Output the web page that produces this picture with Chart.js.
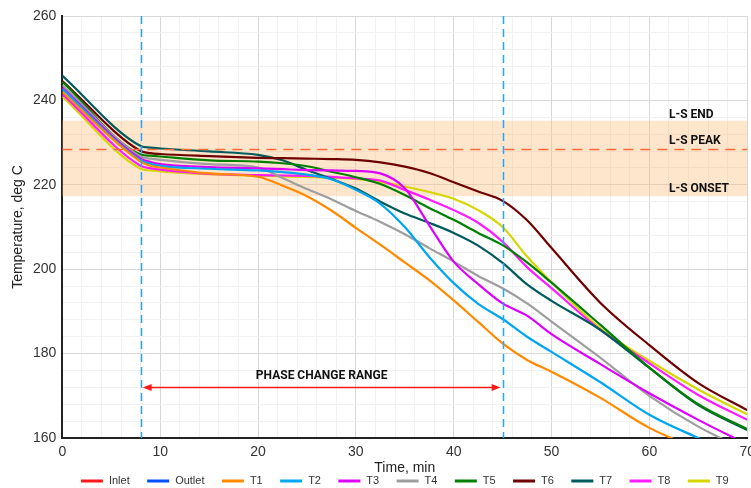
<!DOCTYPE html>
<html>
<head>
<meta charset="utf-8">
<script src="https://cdn.jsdelivr.net/npm/chart.js@4.4.1/dist/chart.umd.min.js"></script>
<style>
  html, body { margin: 0; padding: 0; background: #fff; overflow: hidden; }
  #wrap { position: relative; width: 761px; height: 488px; }
</style>
</head>
<body>
<div id="wrap"><canvas id="chart"></canvas></div>
<script>
// Sampling times (min) shared by every thermocouple trace
const minutes = [0, 8, 9, 10, 15, 20, 22.5, 25, 27.5, 30, 32.5, 35, 37.5, 40, 42.5, 45, 47.5, 50, 55, 60, 65, 70];

// Temperatures, deg C
const inlet  = [];
const outlet = [];
const t1 = [242.0, 225.5, 224.5, 224.1, 222.7, 221.9, 219.8, 217.3, 213.9, 209.8, 205.8, 201.6, 197.4, 192.6, 187.5, 182.4, 178.5, 175.7, 169.5, 162.4, 157.5, 154.0];
const t2 = [242.7, 225.8, 225.0, 224.5, 223.8, 223.4, 223.0, 222.4, 221.3, 218.8, 215.5, 210.0, 202.9, 196.7, 191.8, 188.2, 184.0, 180.4, 173.2, 165.5, 160.0, 155.0];
const t3 = [243.0, 226.2, 225.4, 224.9, 224.2, 223.9, 223.7, 223.5, 223.4, 223.3, 222.7, 219.2, 210.4, 201.8, 196.5, 191.9, 189.0, 184.6, 177.5, 170.6, 164.3, 158.5];
const t4 = [243.6, 226.7, 226.2, 225.9, 224.9, 224.1, 221.6, 219.0, 216.6, 213.8, 211.2, 208.3, 205.0, 201.8, 198.4, 195.5, 191.9, 187.6, 179.0, 170.0, 162.7, 157.0];
const t5 = [244.4, 227.2, 226.9, 226.7, 225.8, 225.5, 225.1, 224.4, 223.1, 221.8, 220.2, 217.6, 214.5, 211.7, 208.6, 205.7, 201.6, 196.8, 186.8, 176.7, 168.0, 162.1];
const t6 = [244.6, 228.0, 227.5, 227.3, 226.8, 226.4, 226.3, 226.2, 226.1, 225.9, 225.3, 224.3, 222.8, 220.6, 218.4, 216.2, 211.6, 205.0, 192.0, 182.0, 173.0, 166.6];
const t7 = [245.8, 229.2, 228.8, 228.6, 227.9, 227.1, 225.8, 223.5, 221.4, 219.1, 216.0, 213.2, 211.0, 208.6, 205.6, 201.5, 196.4, 192.5, 185.6, 176.6, 167.8, 161.9];
const t8 = [241.5, 224.5, 223.9, 223.6, 222.6, 222.3, 222.2, 222.1, 221.9, 221.5, 221.0, 218.8, 216.5, 214.0, 211.0, 206.5, 200.5, 195.5, 185.6, 177.7, 170.2, 164.3];
const t9 = [240.9, 223.8, 223.4, 223.2, 222.5, 222.2, 222.0, 221.9, 221.7, 221.4, 220.7, 219.6, 218.3, 216.7, 214.0, 210.0, 203.0, 196.9, 186.0, 178.3, 171.5, 165.6];

const seriesNames  = ['Inlet', 'Outlet', 'T1', 'T2', 'T3', 'T4', 'T5', 'T6', 'T7', 'T8', 'T9'];
const seriesValues = [inlet, outlet, t1, t2, t3, t4, t5, t6, t7, t8, t9];
const seriesColors = ['#ff1a1a', '#0050ff', '#ff8a00', '#00a6f0', '#dd00ff', '#9e9e9e', '#008000', '#6e0000', '#005c5c', '#ff1aff', '#d6d600'];

// Liquid-solid transition band and phase-change window
const lsOnset = 217.3;
const lsPeak  = 228.6;
const lsEnd   = 235.2;
const phaseStart = 8;
const phaseEnd   = 45;
const bandLabels = [
  { text: 'L-S END',   y: 236.6 },
  { text: 'L-S PEAK',  y: 230.4 },
  { text: 'L-S ONSET', y: 219.0 }
];
const bandLabelX = 62;
const rangeLabel = 'PHASE CHANGE RANGE';
const rangeArrowY = 172.1;
const rangeLabelY = 174.6;

const datasets = seriesNames.map((name, i) => ({
  label: name,
  data: seriesValues[i].map((v, k) => ({ x: minutes[k], y: v })),
  borderColor: seriesColors[i],
  backgroundColor: seriesColors[i],
  borderWidth: 2.2,
  pointRadius: 0,
  cubicInterpolationMode: 'monotone',
  fill: false
}));

const overlay = {
  id: 'phaseOverlay',
  beforeDatasetsDraw(chart) {
    const { ctx, chartArea: a, scales: { y } } = chart;
    ctx.save();
    ctx.fillStyle = 'rgba(250,190,120,0.38)';
    const yt = y.getPixelForValue(lsEnd), yb = y.getPixelForValue(lsOnset);
    ctx.fillRect(a.left, yt, a.right - a.left, yb - yt);
    ctx.restore();
  },
  afterDatasetsDraw(chart) {
    const { ctx, chartArea: a, scales: { x, y } } = chart;
    ctx.save();
    // peak line
    ctx.strokeStyle = '#ff6a3a';
    ctx.lineWidth = 1.5;
    ctx.setLineDash([10, 7]);
    const yp = Math.round(y.getPixelForValue(lsPeak)) + 0.5;
    ctx.beginPath(); ctx.moveTo(a.left, yp); ctx.lineTo(a.right, yp); ctx.stroke();
    // phase-change window limits
    ctx.strokeStyle = '#28a4ff';
    ctx.setLineDash([8, 5]);
    [phaseStart, phaseEnd].forEach(t => {
      const px = Math.round(x.getPixelForValue(t)) + 0.5;
      ctx.beginPath(); ctx.moveTo(px, a.top); ctx.lineTo(px, a.bottom); ctx.stroke();
    });
    ctx.setLineDash([]);
    // double-headed arrow
    const x0 = x.getPixelForValue(phaseStart) + 2, x1 = x.getPixelForValue(phaseEnd) - 2;
    const ya = Math.round(y.getPixelForValue(rangeArrowY)) + 0.5;
    ctx.strokeStyle = '#ff1a1a'; ctx.fillStyle = '#ff1a1a'; ctx.lineWidth = 1.5;
    ctx.beginPath(); ctx.moveTo(x0 + 6, ya); ctx.lineTo(x1 - 6, ya); ctx.stroke();
    ctx.beginPath(); ctx.moveTo(x0, ya); ctx.lineTo(x0 + 9, ya - 3.5); ctx.lineTo(x0 + 9, ya + 3.5); ctx.closePath(); ctx.fill();
    ctx.beginPath(); ctx.moveTo(x1, ya); ctx.lineTo(x1 - 9, ya - 3.5); ctx.lineTo(x1 - 9, ya + 3.5); ctx.closePath(); ctx.fill();
    // texts
    ctx.fillStyle = '#111';
    ctx.font = 'bold 12px Roboto, "Liberation Sans", sans-serif';
    ctx.textBaseline = 'middle';
    ctx.textAlign = 'center';
    ctx.fillText(rangeLabel, x.getPixelForValue((phaseStart + phaseEnd) / 2), y.getPixelForValue(rangeLabelY));
    ctx.textAlign = 'left';
    bandLabels.forEach(l => ctx.fillText(l.text, x.getPixelForValue(bandLabelX), y.getPixelForValue(l.y)));
    ctx.restore();
  }
};

// Single-row legend under the axis title, centred on the plot area
const lineLegend = {
  id: 'lineLegend',
  afterDraw(chart) {
    const { ctx, chartArea: a } = chart;
    const swatch = 22, gapIn = 6, gapOut = 17.4;
    ctx.save();
    ctx.font = '11px "Liberation Sans", Arial, sans-serif';
    const items = chart.data.datasets.map(d => ({ text: d.label, color: d.borderColor, w: ctx.measureText(d.label).width }));
    const total = items.reduce((s, it) => s + swatch + gapIn + it.w, 0) + gapOut * (items.length - 1);
    let cx = (a.left + a.right) / 2 - total / 2;
    const cy = chart.height - 7;
    ctx.textBaseline = 'middle';
    ctx.textAlign = 'left';
    items.forEach(it => {
      ctx.strokeStyle = it.color;
      ctx.lineWidth = 3;
      ctx.beginPath(); ctx.moveTo(cx, cy); ctx.lineTo(cx + swatch, cy); ctx.stroke();
      ctx.fillStyle = '#333';
      ctx.fillText(it.text, cx + swatch + gapIn, cy);
      cx += swatch + gapIn + it.w + gapOut;
    });
    ctx.restore();
  }
};

const majorGrid = '#d8d8d8', minorGrid = '#f1f1f1';
const tickFont = { family: '"Liberation Sans", Arial, sans-serif', size: 14 };
const titleFont = { family: '"Liberation Sans", Arial, sans-serif', size: 14, lineHeight: 1 };

new Chart(document.getElementById('chart'), {
  type: 'line',
  data: { datasets },
  plugins: [overlay, lineLegend],
  options: {
    responsive: true,
    maintainAspectRatio: false,
    animation: false,
    layout: { padding: { left: 0, top: 16, right: 0, bottom: 0 } },
    plugins: {
      tooltip: { enabled: false },
      legend: { display: false }
    },
    scales: {
      x: {
        type: 'linear',
        min: 0, max: 70,
        title: { display: true, text: 'Time, min', color: '#222', font: titleFont, padding: { top: 0, bottom: 13 } },
        ticks: {
          stepSize: 2, autoSkip: false, maxRotation: 0, color: '#333', font: tickFont, padding: 6,
          callback: v => (v % 10 === 0 ? String(v) : '')
        },
        grid: { color: c => (c.tick && c.tick.value % 10 === 0 ? majorGrid : minorGrid), drawTicks: false },
        border: { color: '#222', width: 2 },
        afterFit: s => { s.height = 50; }
      },
      y: {
        min: 160, max: 260,
        title: { display: true, text: 'Temperature, deg C', color: '#222', font: titleFont, padding: { top: 11, bottom: 2 } },
        ticks: {
          stepSize: 4, autoSkip: false, color: '#333', font: tickFont, padding: 6,
          callback: v => (v % 20 === 0 ? String(v) : '')
        },
        grid: { color: c => (c.tick && c.tick.value % 20 === 0 ? majorGrid : minorGrid), drawTicks: false },
        border: { color: '#222', width: 2 }
      }
    }
  }
});
</script>
</body>
</html>
